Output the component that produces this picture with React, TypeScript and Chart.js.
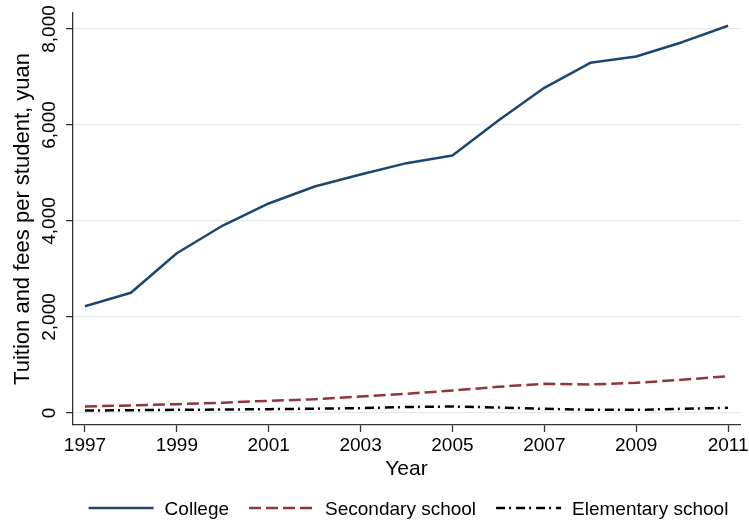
import React, { useEffect, useRef } from "react";
import { Chart, registerables } from "chart.js";

Chart.register(...registerables);

// Tuition and fees per student (yuan), by year and school level
const years = [1997, 1998, 1999, 2000, 2001, 2002, 2003, 2004, 2005, 2006, 2007, 2008, 2009, 2010, 2011];
const college = [2225, 2504, 3329, 3906, 4365, 4719, 4969, 5205, 5365, 6094, 6775, 7296, 7427, 7725, 8067];
const secondary = [135, 158, 184, 215, 254, 285, 344, 400, 469, 545, 608, 594, 629, 692, 767];
const elementary = [52, 58, 66, 72, 80, 90, 100, 125, 135, 115, 87, 66, 66, 87, 108];

const seriesNames = ["College", "Secondary school", "Elementary school"];
const seriesColors = ["#1a476f", "#90353b", "#000000"];
const seriesDashes: number[][] = [[], [12, 5], [9, 4, 2, 5]];

const xTickYears = [1997, 1999, 2001, 2003, 2005, 2007, 2009, 2011];
const yTickValues = [0, 2000, 4000, 6000, 8000];

const xTitle = "Year";
const yTitle = "Tuition and fees per student, yuan";

const FONT = "'Liberation Sans', Arial, Helvetica, sans-serif";
const AXIS_COLOR = "#333333";
const GRID_COLOR = "#e2eaee";

export default function App() {
  const canvasRef = useRef<HTMLCanvasElement>(null);

  useEffect(() => {
    const canvas = canvasRef.current;
    if (!canvas) return;

    const toPoints = (vals: number[]) => years.map((x, i) => ({ x, y: vals[i] }));
    const seriesValues = [college, secondary, elementary];

    // Tick labels (rotated on the y axis) and the legend row under the plot
    const annotate = {
      id: "annotate",
      afterDraw(chart: any) {
        const { ctx, chartArea } = chart;
        const xs = chart.scales.x;
        const ys = chart.scales.y;
        ctx.save();
        ctx.fillStyle = "#000";
        ctx.font = `19px ${FONT}`;

        ctx.textAlign = "center";
        ctx.textBaseline = "alphabetic";
        xTickYears.forEach((v) => {
          ctx.fillText(String(v), xs.getPixelForValue(v), chartArea.bottom + 26);
        });

        yTickValues.forEach((v) => {
          ctx.save();
          ctx.translate(chartArea.left - 18, ys.getPixelForValue(v));
          ctx.rotate(-Math.PI / 2);
          ctx.textAlign = "center";
          ctx.textBaseline = "alphabetic";
          ctx.fillText(v.toLocaleString("en-US"), 0, 0);
          ctx.restore();
        });

        // legend
        const sample = 65;
        const gap = 11;
        const itemGap = 20;
        const widths = seriesNames.map((n) => ctx.measureText(n).width);
        const total =
          widths.reduce((a, w) => a + sample + gap + w, 0) + itemGap * (seriesNames.length - 1);
        let x = (chartArea.left + chartArea.right) / 2 + 2 - total / 2;
        const lineY = chartArea.bottom + 83;
        seriesNames.forEach((name, i) => {
          ctx.save();
          ctx.strokeStyle = seriesColors[i];
          ctx.lineWidth = 2.5;
          ctx.setLineDash(seriesDashes[i]);
          ctx.beginPath();
          ctx.moveTo(x, lineY);
          ctx.lineTo(x + sample, lineY);
          ctx.stroke();
          ctx.restore();
          ctx.textAlign = "left";
          ctx.textBaseline = "alphabetic";
          ctx.fillText(name, x + sample + gap, lineY + 7);
          x += sample + gap + widths[i] + itemGap;
        });
        ctx.restore();
      },
    };

    const chart = new Chart(canvas, {
      type: "line",
      data: {
        datasets: seriesNames.map((name, i) => ({
          label: name,
          data: toPoints(seriesValues[i]),
          borderColor: seriesColors[i],
          backgroundColor: seriesColors[i],
          borderWidth: 2.5,
          borderDash: seriesDashes[i],
          pointRadius: 0,
          tension: 0,
          fill: false,
          borderJoinStyle: "round" as const,
        })),
      },
      options: {
        animation: false,
        responsive: false,
        devicePixelRatio: 1,
        layout: { padding: { top: 13, right: 9, bottom: 49, left: 0 } },
        plugins: {
          legend: { display: false },
          tooltip: { enabled: false },
        },
        scales: {
          x: {
            type: "linear",
            min: 1996.74,
            max: 2011.26,
            afterBuildTicks: (s: any) => {
              s.ticks = xTickYears.map((v) => ({ value: v }));
            },
            afterFit: (s: any) => {
              s.height = 53;
            },
            ticks: { display: false },
            grid: {
              drawOnChartArea: false,
              drawTicks: true,
              tickLength: 7,
              tickColor: AXIS_COLOR,
              tickWidth: 1.3,
            },
            border: { display: true, color: AXIS_COLOR, width: 1.3 },
            title: {
              display: true,
              text: xTitle,
              color: "#000",
              font: { family: FONT, size: 21, lineHeight: 1 },
              padding: { top: 0, bottom: -2 },
            },
          },
          y: {
            type: "linear",
            min: -250,
            max: 8333,
            afterBuildTicks: (s: any) => {
              s.ticks = yTickValues.map((v) => ({ value: v }));
            },
            afterFit: (s: any) => {
              s.width = 73;
            },
            ticks: { display: false },
            grid: {
              color: GRID_COLOR,
              lineWidth: 1.3,
              drawTicks: true,
              tickLength: 7,
              tickColor: AXIS_COLOR,
              tickWidth: 1.3,
            },
            border: { display: true, color: AXIS_COLOR, width: 1.3 },
            title: {
              display: true,
              text: yTitle,
              color: "#000",
              font: { family: FONT, size: 22, lineHeight: 1 },
              padding: { top: 12, bottom: 0 },
            },
          },
        },
      },
      plugins: [annotate],
    });

    return () => chart.destroy();
  }, []);

  return (
    <div style={{ position: "fixed", left: 0, top: 0, width: 749, height: 527, background: "#fff" }}>
      <canvas ref={canvasRef} width={749} height={527} style={{ display: "block" }} />
    </div>
  );
}
